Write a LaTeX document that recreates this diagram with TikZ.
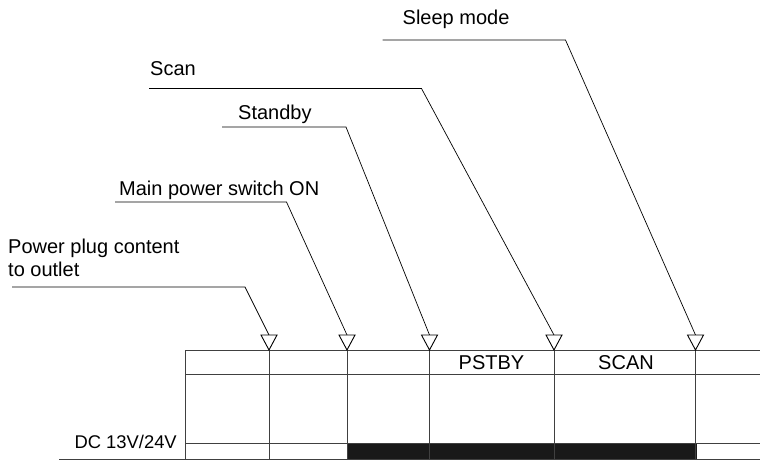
\documentclass[tikz,border=0pt]{standalone}
\usepackage{fontspec}
\setmainfont{Liberation Sans}
\usetikzlibrary{calc}
\begin{document}
\begin{tikzpicture}[x=1pt,y=-1pt,
  lbl/.style={inner sep=0pt,anchor=base west,font=\fontsize{20}{23.3}\selectfont},
  celltxt/.style={inner sep=0pt,anchor=base,font=\fontsize{20}{23.3}\selectfont},
  grid/.style={line width=0.9pt,draw=black!75},
  leader/.style={line width=0.7pt,draw=black},
  tri/.style={line width=0.9pt,draw=black,fill=white}]
\useasboundingbox (0,0) rectangle (760,461);
% table grid
\draw[grid] (185,350.5) -- (760,350.5);
\draw[grid] (185,374) -- (760,374);
\draw[grid] (185,443.5) -- (760,443.5);
\draw[grid] (59,459) -- (760,459);
\draw[grid] (185,350.5) -- (185,459);
% black bar
\fill[black!90] (347,443.5) rectangle (697,459);
% time-point coordinates (triangle tips)
\coordinate (t1) at (269,335);
\coordinate (t2) at (347,335);
\coordinate (t3) at (429.5,335);
\coordinate (t4) at (554,335);
\coordinate (t5) at (695.5,335);
% vertical lines
\foreach \t in {t1,t2,t3,t4,t5}{
  \draw[grid] ($(\t)+(0,15)$) -- ($(\t)+(0,124)$);
}
% labels
\node[lbl] (lplug) at (8,253.5) {Power plug content};
\node[lbl] (lplug2) at (8,276.8) {to outlet};
\node[lbl] (lmain) at (119,195) {Main power switch ON};
\node[lbl] (lstby) at (238,119) {Standby};
\node[lbl] (lscan) at (150,75) {Scan};
\node[lbl] (lsleep) at (402.5,24.5) {Sleep mode};
\node[lbl,anchor=base east,font=\fontsize{18.4}{22}\selectfont] (ldc) at (177,448.5) {DC 13V/24V};
\node[celltxt] (cp) at (491.5,369.3) {PSTBY};
\node[celltxt] (cs) at (626,369.3) {SCAN};
% leader coordinates
\coordinate (s1) at (12,287); \coordinate (b1) at (245,287);
\coordinate (s2) at (115,202); \coordinate (b2) at (286.5,202);
\coordinate (s3) at (222,127); \coordinate (b3) at (346,127);
\coordinate (s4) at (149,88.5); \coordinate (b4) at (421.5,88.5);
\coordinate (s5) at (382.5,40); \coordinate (b5) at (565.5,40);
\draw[leader] (s1) -- (b1) -- (t1);
\draw[leader] (s2) -- (b2) -- (t2);
\draw[leader] (s3) -- (b3) -- (t3);
\draw[leader] (s4) -- (b4) -- (t4);
\draw[leader] (s5) -- (b5) -- (t5);
% triangles
\foreach \t in {t1,t2,t3,t4,t5}{
  \draw[tri,line join=miter] ($(\t)+(-8,0)$) -- ($(\t)+(8,0)$) -- ($(\t)+(0,15)$) -- cycle;
}
\end{tikzpicture}
\end{document}
